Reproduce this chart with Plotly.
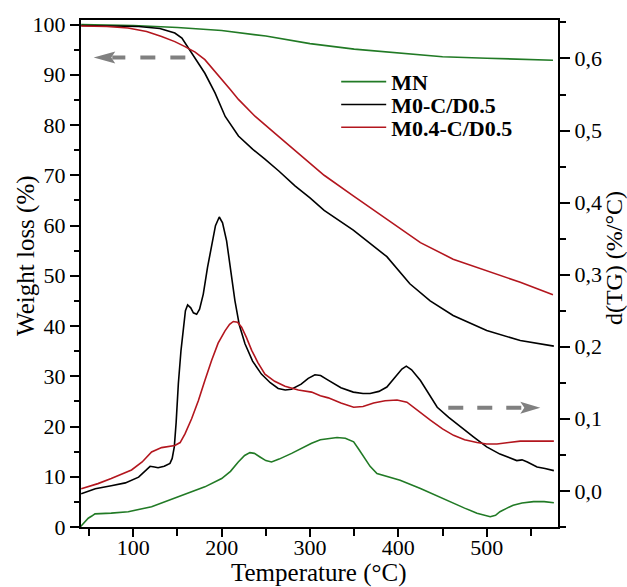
import plotly.graph_objects as go

# ---------------- data ----------------
# Weight loss (TG) curves, left axis
T_mn_tg = [41, 60, 100, 150, 200, 250, 300, 350, 400, 450, 500, 540, 575]
W_mn_tg = [100.0, 99.95, 99.8, 99.4, 98.8, 97.7, 96.2, 95.1, 94.3, 93.6, 93.3, 93.1, 92.9]

T_m0_tg = [41, 80, 106, 130, 147, 155, 166, 181, 192.5, 204, 219, 235, 249, 265, 283,
           300, 316, 349, 387, 413, 436, 462, 500, 538, 576]
W_m0_tg = [99.8, 99.7, 99.6, 99.2, 98.3, 97.3, 94.3, 90.3, 86.4, 81.7, 77.8, 75.2, 73.2, 70.8, 67.9,
           65.5, 63.0, 59.1, 53.8, 48.4, 45.0, 42.1, 39.1, 37.1, 36.0]

T_m04_tg = [41, 70, 94, 115, 132, 147, 158.5, 170, 181, 190, 200, 210, 219, 238, 264, 294,
            316, 349, 387, 425, 462, 500, 538, 575]
W_m04_tg = [99.7, 99.6, 99.3, 98.6, 97.6, 96.6, 95.6, 94.5, 93.0, 91.2, 89.0, 87.0, 85.1, 81.7, 77.8, 73.2,
            70.0, 65.9, 61.3, 56.6, 53.3, 51.0, 48.7, 46.2]

# Derivative (DTG) curves, right axis
T_m0_dtg = [41, 57, 75, 91, 106, 113, 119, 124, 128, 135, 141.5, 144, 146.4, 148.5, 151, 154,
            156.6, 159, 161.5, 165, 168, 171.7, 175, 179.2, 184, 188.6, 193, 197.3, 201, 205.6,
            210, 215, 220, 226.4, 235, 245, 255, 264, 272, 279, 290, 298, 305.6, 312, 320, 335,
            349, 360, 368, 378, 387, 397, 404, 409, 415, 425, 435, 444, 457, 470, 485, 500, 515,
            534, 540, 546, 552, 557, 566, 576]
D_m0_dtg = [-0.004, 0.003, 0.007, 0.011, 0.019, 0.027, 0.034, 0.033, 0.032, 0.034, 0.038, 0.045,
            0.061, 0.095, 0.149, 0.195, 0.227, 0.250, 0.258, 0.254, 0.247, 0.245, 0.252, 0.273,
            0.310, 0.342, 0.368, 0.380, 0.372, 0.347, 0.310, 0.264, 0.230, 0.204, 0.180, 0.162,
            0.150, 0.142, 0.140, 0.141, 0.148, 0.156, 0.161, 0.160, 0.154, 0.143, 0.137, 0.135,
            0.135, 0.138, 0.144, 0.158, 0.169, 0.173, 0.168, 0.153, 0.133, 0.116, 0.102, 0.089,
            0.075, 0.061, 0.051, 0.042, 0.043, 0.040, 0.036, 0.033, 0.031, 0.028]

T_m04_dtg = [41, 60, 75, 98, 110, 120.7, 132, 147, 153, 158.5, 166, 173.6, 181, 188.6, 196,
             203.8, 209, 213.2, 218, 222.6, 228, 234, 241, 249, 260, 271.7, 286.8, 301.8, 311.7,
             320.7, 335, 349.4, 360, 372, 385, 398.5, 409.7, 420, 436.2, 450, 462.5, 475, 489,
             500, 511.6, 525, 538, 555, 576]
D_m04_dtg = [0.003, 0.010, 0.017, 0.029, 0.040, 0.054, 0.060, 0.063, 0.067, 0.079, 0.100, 0.125,
             0.153, 0.181, 0.205, 0.222, 0.231, 0.235, 0.234, 0.227, 0.213, 0.195, 0.178, 0.162,
             0.152, 0.145, 0.140, 0.137, 0.132, 0.129, 0.122, 0.116, 0.117, 0.122, 0.125, 0.126,
             0.123, 0.113, 0.098, 0.086, 0.077, 0.071, 0.067, 0.065, 0.065, 0.067, 0.069, 0.069,
             0.069]

T_mn_dtg = [40, 44, 49, 53, 56.6, 75, 94.3, 120.7, 151, 181, 200, 210, 218.8, 226, 232, 237,
            243.4, 250, 256.5, 265, 279.2, 290, 301.8, 311.7, 320.7, 330.6, 340, 349.4, 355,
            360.7, 368, 375.8, 390, 402, 425, 445, 462.5, 475, 489, 497, 504, 510, 515, 523, 530,
            540, 553, 565, 576]
D_mn_dtg = [-0.050, -0.045, -0.038, -0.035, -0.032, -0.031, -0.029, -0.022, -0.008, 0.0055,
            0.017, 0.027, 0.040, 0.049, 0.053, 0.052, 0.047, 0.042, 0.040, 0.044, 0.052, 0.059,
            0.066, 0.071, 0.072, 0.074, 0.073, 0.068, 0.058, 0.047, 0.034, 0.024, 0.019, 0.0148,
            0.0033, -0.008, -0.0174, -0.024, -0.031, -0.034, -0.036, -0.034, -0.029, -0.024,
            -0.020, -0.017, -0.015, -0.015, -0.0166]

series_names = ["MN", "M0-C/D0.5", "M0.4-C/D0.5"]

# ---------------- styling ----------------
GREEN = "#217a25"
BLACK = "#000000"
RED = "#b3161e"
GRAY = "#808080"
FONT = "Liberation Serif"
LW = 1.6

fig = go.Figure()
legend_ids = ["legend", "legend2", "legend3"]
legend_y = [0.878, 0.833, 0.788]
tg = [(T_mn_tg, W_mn_tg, GREEN), (T_m0_tg, W_m0_tg, BLACK), (T_m04_tg, W_m04_tg, RED)]
for (tx, wy, col), nm, lg in zip(tg, series_names, legend_ids):
    fig.add_trace(go.Scatter(x=tx, y=wy, mode="lines", name=nm, legend=lg,
                             line=dict(color=col, width=LW), showlegend=True))
dtg = [(T_mn_dtg, D_mn_dtg, GREEN), (T_m0_dtg, D_m0_dtg, BLACK), (T_m04_dtg, D_m04_dtg, RED)]
for (tx, dy, col), nm in zip(dtg, series_names):
    fig.add_trace(go.Scatter(x=tx, y=dy, mode="lines", name=nm + " DTG", yaxis="y2",
                             line=dict(color=col, width=LW), showlegend=False))

axis_common = dict(showline=True, linewidth=2, linecolor="black", showgrid=False,
                   zeroline=False, ticks="outside", tickwidth=2, tickcolor="black",
                   tickfont=dict(family=FONT, size=22, color="black"))

legend_style = dict(x=0.535, xanchor="left", yanchor="middle",
                    bgcolor="rgba(0,0,0,0)", borderwidth=0, itemwidth=45,
                    font=dict(family=FONT, size=22, color="black", weight="bold"))

fig.update_layout(
    width=627, height=587,
    margin=dict(l=81, r=69, t=18, b=60),
    paper_bgcolor="white", plot_bgcolor="white",
    separators=", ",
    font=dict(family=FONT, size=22, color="black"),
    xaxis=dict(range=[40.8, 580.7], tickmode="linear", tick0=0, dtick=100, ticklen=8,
               mirror=True, ticklabelstandoff=-8,
               minor=dict(dtick=50, ticks="outside", ticklen=7, tickwidth=1.5,
                          tickcolor="black", showgrid=False),
               **axis_common),
    yaxis=dict(range=[0, 100.9], tickmode="linear", tick0=0, dtick=10, ticklen=9,
               minor=dict(dtick=5, ticks="outside", ticklen=5, tickwidth=1.5,
                          tickcolor="black", showgrid=False),
               **axis_common),
    yaxis2=dict(range=[-0.0502, 0.6534], overlaying="y", side="right", tickmode="linear",
                tick0=0, dtick=0.1, tickformat=".1f", ticklen=10,
                minor=dict(dtick=0.05, ticks="outside", ticklen=6, tickwidth=1.5,
                           tickcolor="black", showgrid=False),
                **axis_common),
    legend=dict(y=legend_y[0], **legend_style),
    legend2=dict(y=legend_y[1], **legend_style),
    legend3=dict(y=legend_y[2], **legend_style),
    annotations=[
        dict(text="Temperature (°C)", xref="paper", yref="paper", x=0.4985, y=-0.091,
             showarrow=False, xanchor="center", yanchor="middle",
             font=dict(family=FONT, size=25, color="black")),
        dict(text="Weight loss (%)", xref="paper", yref="paper", x=-0.115, y=0.535,
             showarrow=False, xanchor="center", yanchor="middle", textangle=-90,
             font=dict(family=FONT, size=25, color="black")),
        dict(text="d(TG) (%/°C)", xref="paper", yref="paper", x=1.116, y=0.531,
             showarrow=False, xanchor="center", yanchor="middle", textangle=-90,
             font=dict(family=FONT, size=24, color="black")),
    ],
)

# dashed arrows (decorations)
ya, yb = 93.45, 23.75
hh = 1.19
fig.add_shape(type="line", xref="x", yref="y", x0=158.9, x1=76.2, y0=ya, y1=ya,
              line=dict(color=GRAY, width=4, dash="15px,15px"))
fig.add_shape(type="path", xref="x", yref="y",
              path=f"M55.1,{ya} L79.6,{ya+hh} L75.1,{ya} L79.6,{ya-hh} Z",
              fillcolor=GRAY, line=dict(width=0))
fig.add_shape(type="line", xref="x", yref="y", x0=456.5, x1=542.6, y0=yb, y1=yb,
              line=dict(color=GRAY, width=4, dash="15px,14px"))
fig.add_shape(type="path", xref="x", yref="y",
              path=f"M560.7,{yb} L538.0,{yb+hh} L542.6,{yb} L538.0,{yb-hh} Z",
              fillcolor=GRAY, line=dict(width=0))

fig.write_html("out.html")
